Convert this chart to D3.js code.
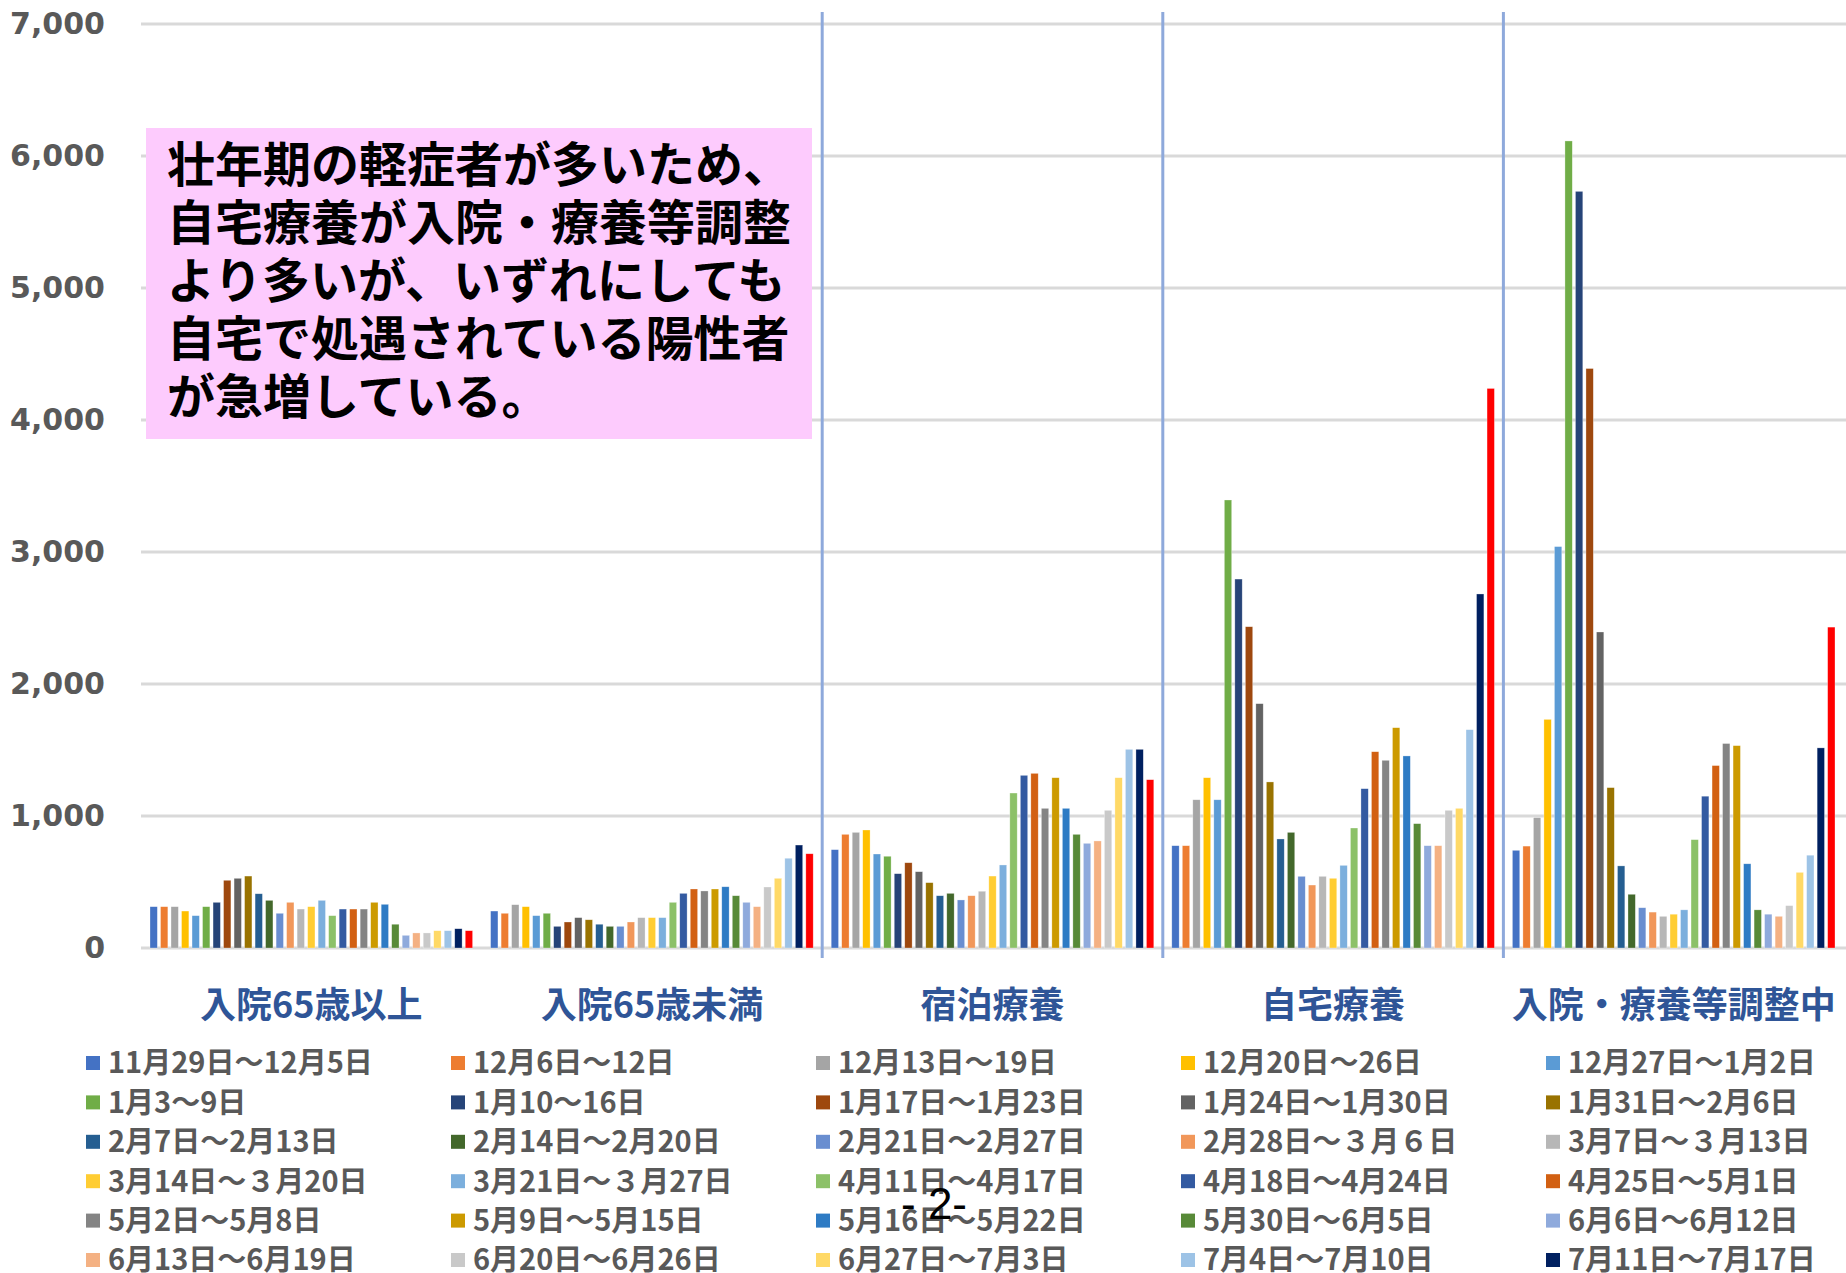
<!DOCTYPE html>
<html>
<head>
<meta charset="utf-8">
<script src="https://cdn.jsdelivr.net/npm/d3@7"></script>
<style>
  body { margin: 0; background: #fff; }
  svg { display: block; font-family: "Noto Sans CJK JP", "Noto Sans", sans-serif; }
</style>
</head>
<body>
<div id="container"></div>
<script>
/* DATA */
const categories = ["入院65歳以上", "入院65歳未満", "宿泊療養", "自宅療養", "入院・療養等調整中"]

const weeks = [
  "11月29日～12月5日", "12月6日～12日", "12月13日～19日", "12月20日～26日", "12月27日～1月2日",
  "1月3～9日", "1月10～16日", "1月17日～1月23日", "1月24日～1月30日", "1月31日～2月6日",
  "2月7日～2月13日", "2月14日～2月20日", "2月21日～2月27日", "2月28日～３月６日", "3月7日～３月13日",
  "3月14日～３月20日", "3月21日～３月27日", "4月11日～4月17日", "4月18日～4月24日", "4月25日～5月1日",
  "5月2日～5月8日", "5月9日～5月15日", "5月16日～5月22日", "5月30日～6月5日", "6月6日～6月12日",
  "6月13日～6月19日", "6月20日～6月26日", "6月27日～7月3日", "7月4日～7月10日", "7月11日～7月17日",
  "7月18日～7月24日"
]

// one array per category, one value per week
const hospOver65 = [313, 313, 313, 280, 245, 313, 346, 513, 528, 545, 411, 361, 263, 346, 295, 313, 361, 245, 295, 295, 295, 346, 331, 180, 96, 114, 114, 131, 131, 146, 131]
const hospUnder65 = [280, 263, 328, 313, 245, 263, 164, 197, 230, 214, 180, 164, 164, 197, 230, 230, 230, 346, 414, 447, 432, 447, 464, 396, 346, 313, 462, 528, 680, 780, 714]
const hotelCare = [745, 861, 876, 894, 712, 695, 563, 646, 578, 495, 396, 414, 364, 396, 430, 545, 629, 1174, 1308, 1323, 1058, 1290, 1058, 861, 793, 811, 1043, 1290, 1505, 1505, 1275]
const homeCare = [775, 775, 1123, 1290, 1123, 3394, 2795, 2434, 1851, 1258, 826, 876, 543, 477, 543, 528, 626, 909, 1207, 1487, 1422, 1669, 1455, 942, 775, 775, 1043, 1058, 1654, 2682, 4239]
const adjusting = [740, 772, 988, 1732, 3041, 6114, 5732, 4390, 2394, 1215, 622, 407, 305, 272, 240, 256, 289, 821, 1150, 1382, 1549, 1533, 638, 289, 256, 240, 321, 573, 703, 1516, 2431]

const yTicks = [0, 1000, 2000, 3000, 4000, 5000, 6000, 7000]

const note = [
  "壮年期の軽症者が多いため、",
  "自宅療養が入院・療養等調整",
  "より多いが、いずれにしても",
  "自宅で処遇されている陽性者",
  "が急増している。"
]

/* CONSTANTS AND GLOBALS */
const width = 1846,
  height = 1273,
  margin = { left: 141, right: 2, top: 24, bottom: 325 }

const colors = [
  "#4472C4", "#ED7D31", "#A5A5A5", "#FFC000", "#5B9BD5", "#70AD47",
  "#264478", "#9E480E", "#636363", "#997300", "#255E91", "#43682B",
  "#698ED0", "#F1975A", "#B7B7B7", "#FFCD33", "#7CAFDD", "#8CC168",
  "#335AA1", "#D26012", "#848484", "#CC9A00", "#2E7BC4", "#588A38",
  "#8FAADC", "#F4B183", "#C9C9C9", "#FFD966", "#9DC3E6", "#002060",
  "#FF0000"
]

const table = [hospOver65, hospUnder65, hotelCare, homeCare, adjusting]
  .map((vals, i) => ({ cat: categories[i], values: vals.map((v, j) => ({ week: weeks[j], value: v })) }))

// SCALES
const x0 = d3.scaleBand()
  .domain(categories)
  .range([margin.left, width - margin.right])

const x1 = d3.scaleBand()
  .domain(weeks)
  .range([9, x0.bandwidth() - 9])
  .paddingInner(0.3)

const yScale = d3.scaleLinear()
  .domain([0, 7000])
  .range([height - margin.bottom, margin.top])

const color = d3.scaleOrdinal()
  .domain(weeks)
  .range(colors)

// CREATE SVG ELEMENT
const svg = d3.select("#container")
  .append("svg")
  .attr("width", width)
  .attr("height", height)

// GRIDLINES
svg.append("g")
  .selectAll("line")
  .data(yTicks)
  .join("line")
  .attr("x1", margin.left)
  .attr("x2", width)
  .attr("y1", d => yScale(d))
  .attr("y2", d => yScale(d))
  .attr("stroke", "#D9D9D9")
  .attr("stroke-width", 3)

// Y AXIS
const yAxis = d3.axisLeft(yScale)
  .tickValues(yTicks)
  .tickFormat(d3.format(","))
  .tickSize(0)
  .tickPadding(36)

svg.append("g")
  .attr("transform", `translate(${margin.left}, 0)`)
  .call(yAxis)
  .call(g => g.select(".domain").remove())
  .selectAll("text")
  .attr("fill", "#595959")
  .style("font-family", "'DejaVu Sans', sans-serif")
  .style("font-weight", "bold")
  .style("font-size", "30px")

// X AXIS (category labels)
const xAxis = d3.axisBottom(x0)
  .tickSize(0)
  .tickPadding(44)

svg.append("g")
  .attr("transform", `translate(0, ${yScale(0)})`)
  .call(xAxis)
  .call(g => g.select(".domain").remove())
  .selectAll("text")
  .attr("fill", "#2F5597")
  .style("font-family", "'Noto Sans CJK JP', sans-serif")
  .style("font-weight", "bold")
  .style("font-size", "36px")

// DRAW BARS
svg.append("g")
  .selectAll("g")
  .data(table)
  .join("g")
  .attr("transform", d => `translate(${x0(d.cat)}, 0)`)
  .selectAll("rect")
  .data(d => d.values)
  .join("rect")
  .attr("x", d => x1(d.week))
  .attr("width", x1.bandwidth())
  .attr("y", d => yScale(d.value))
  .attr("height", d => yScale(0) - yScale(d.value))
  .attr("fill", d => color(d.week))
  .attr("stroke", "#fff")
  .attr("stroke-opacity", 0.5)
  .attr("stroke-width", 0.6)

// DIVIDERS between later groups
svg.append("g")
  .selectAll("line")
  .data(categories.slice(2))
  .join("line")
  .attr("x1", d => x0(d))
  .attr("x2", d => x0(d))
  .attr("y1", 12)
  .attr("y2", yScale(0) + 10)
  .attr("stroke", "#8EA9DB")
  .attr("stroke-width", 3)

// NOTE BOX
const noteBox = svg.append("g")
  .attr("transform", "translate(146, 128)")

noteBox.append("rect")
  .attr("width", 666)
  .attr("height", 311)
  .attr("fill", "#FDCBFD")

noteBox.selectAll("text")
  .data(note)
  .join("text")
  .attr("x", 21)
  .attr("y", (d, i) => 54 + i * 58)
  .attr("fill", "#000")
  .style("font-family", "'Noto Sans CJK JP', sans-serif")
  .style("font-weight", "bold")
  .style("font-size", "48px")
  .text(d => d)

// LEGEND
const legend = svg.append("g")
  .selectAll("g")
  .data(weeks)
  .join("g")
  .attr("transform", (d, i) => `translate(${86 + (i % 5) * 365}, ${1063 + Math.floor(i / 5) * 39.4})`)

legend.append("rect")
  .attr("y", -7)
  .attr("width", 14)
  .attr("height", 14)
  .attr("fill", d => color(d))

legend.append("text")
  .attr("x", 22)
  .attr("dy", "0.36em")
  .attr("fill", "#595959")
  .style("font-family", "'Noto Sans CJK JP', sans-serif")
  .style("font-weight", "bold")
  .style("font-size", "29px")
  .text(d => d)

// PAGE NUMBER
svg.append("text")
  .attr("x", 934)
  .attr("y", 1204)
  .attr("dy", "0.35em")
  .attr("text-anchor", "middle")
  .attr("fill", "#000")
  .style("font-family", "'Liberation Sans', sans-serif")
  .style("font-size", "44px")
  .text("- 2-")
</script>
</body>
</html>
